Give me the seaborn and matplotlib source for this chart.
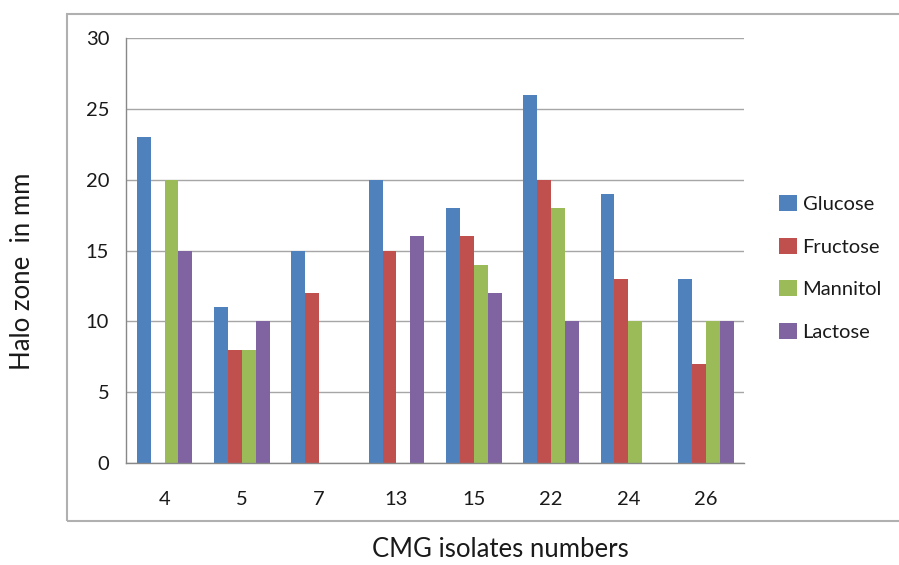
import pandas as pd
import seaborn as sns
import matplotlib.pyplot as plt
from matplotlib.patches import Rectangle, Patch
from matplotlib.ticker import FixedLocator

# data
isolates = ['4', '5', '7', '13', '15', '22', '24', '26']
glucose = [23, 11, 15, 20, 18, 26, 19, 13]
fructose = [0, 8, 12, 15, 16, 20, 13, 7]
mannitol = [20, 8, 0, 0, 14, 18, 10, 10]
lactose = [15, 10, 0, 16, 12, 10, 0, 10]

sugars = ['Glucose', 'Fructose', 'Mannitol', 'Lactose']
colors = ['#4F81BD', '#C0504D', '#9BBB59', '#8064A2']

rows = []
for name, vals in zip(sugars, [glucose, fructose, mannitol, lactose]):
    for iso, v in zip(isolates, vals):
        rows.append((iso, name, v))
df = pd.DataFrame(rows, columns=['isolate', 'sugar', 'halo'])

sns.set_style('white')
plt.rcParams['font.family'] = ['Lato', 'DejaVu Sans']
plt.rcParams['text.color'] = '#1a1a1a'

fig = plt.figure(figsize=(8.99, 5.65), dpi=100)
ax = fig.add_axes([0.140, 0.1805, 0.688, 0.7522])

sns.barplot(data=df, x='isolate', y='halo', hue='sugar', order=isolates,
            hue_order=sugars, palette=colors, width=0.72, saturation=1,
            edgecolor='none', linewidth=0, legend=False, ax=ax)

ax.set_ylim(0, 30)
ax.set_xlim(-0.5, len(isolates) - 0.5)
ax.set_yticks(range(0, 31, 5))
ax.yaxis.grid(True, color='#a6a6a6', linewidth=1)
ax.set_axisbelow(True)

for side in ['top', 'right']:
    ax.spines[side].set_visible(False)
for side in ['left', 'bottom']:
    ax.spines[side].set_color('#888888')
    ax.spines[side].set_linewidth(1)

ax.tick_params(axis='y', length=5, width=1, color='#888888',
               labelsize=14.5, pad=7, labelcolor='#1a1a1a')
ax.tick_params(axis='x', which='major', length=0, labelsize=14.5, pad=20,
               labelcolor='#1a1a1a')
ax.xaxis.set_minor_locator(FixedLocator([i - 0.5 for i in range(len(isolates) + 1)]))
ax.tick_params(axis='x', which='minor', length=6, width=1, color='#888888')

ax.set_xlabel('')
ax.set_ylabel('')
fig.text(0.557, 0.027, 'CMG isolates numbers', ha='center', va='center',
         fontsize=18.5)
fig.text(0.0245, 0.52, 'Halo zone  in mm', ha='center', va='center',
         rotation=90, fontsize=18.5)

handles = [Patch(facecolor=c, edgecolor='none') for c in colors]
fig.legend(handles, sugars, loc='center left', bbox_to_anchor=(0.858, 0.526),
           frameon=False, fontsize=14.5, handlelength=0.85, handleheight=0.85,
           handletextpad=0.3, labelspacing=1.22, borderaxespad=0)

fig.patches.append(Rectangle((0.0745, 0.078), 0.95, 0.897,
                             transform=fig.transFigure, fill=False,
                             edgecolor='#b0b0b0', linewidth=1.5))

fig.savefig('out.png', dpi=100)
